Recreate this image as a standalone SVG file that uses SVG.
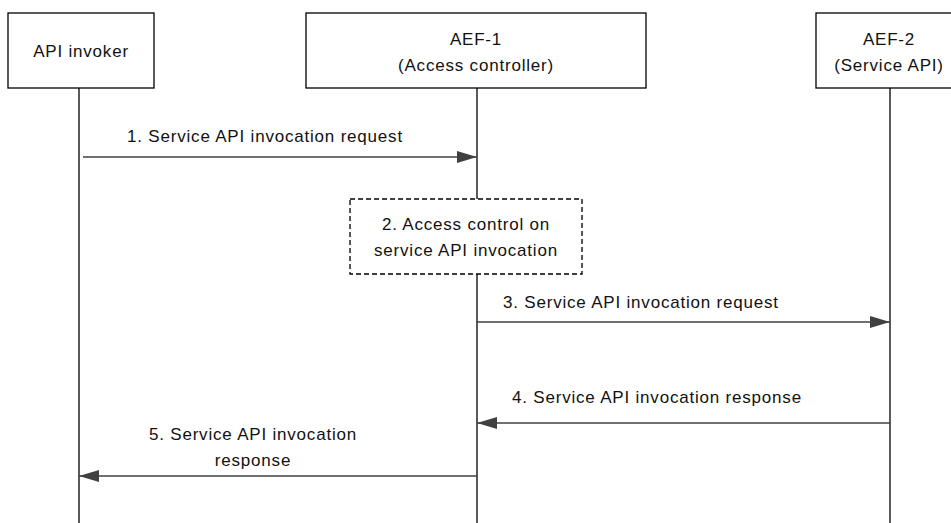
<svg xmlns="http://www.w3.org/2000/svg" width="951" height="523" viewBox="0 0 951 523">
<style>
.box{fill:#fff;stroke:#000;stroke-width:1.3}
.life{stroke:#000;stroke-width:1.3;fill:none}
.msg{stroke:#404040;stroke-width:1.3;fill:none}
text{font-family:"Liberation Sans",Arial,sans-serif;font-size:17px;letter-spacing:0.8px;fill:#111}
.c{text-anchor:middle}
</style>
<defs>
<marker id="ah" markerWidth="20" markerHeight="12" refX="20" refY="6" orient="auto" markerUnits="userSpaceOnUse">
<path d="M0,0 L20,6 L0,12 Z" fill="#404040"/>
</marker>
</defs>
<g id="lifelines">
<line class="life" x1="79" y1="88" x2="79" y2="523"/>
<line class="life" x1="477" y1="88" x2="477" y2="199"/>
<line class="life" x1="477" y1="274" x2="477" y2="523"/>
<line class="life" x1="890" y1="88" x2="890" y2="523"/>
</g>
<g id="apiinvoker">
<rect class="box" x="8" y="13" width="146" height="75"/>
<text class="c" x="81" y="57">API invoker</text>
</g>
<g id="aef1">
<rect class="box" x="306" y="13" width="340" height="75"/>
<text class="c" x="476" y="45">AEF-1</text>
<text class="c" x="476" y="71">(Access controller)</text>
</g>
<g id="aef2">
<rect class="box" x="816" y="13" width="148" height="75"/>
<text class="c" x="889" y="45">AEF-2</text>
<text class="c" x="889" y="71">(Service API)</text>
</g>
<g id="step2">
<rect x="350" y="199" width="232" height="75" fill="#fff" stroke="#000" stroke-width="1.3" stroke-dasharray="5,3"/>
<text class="c" x="466" y="230">2. Access control on</text>
<text class="c" x="466" y="256">service API invocation</text>
</g>
<g id="connectors">
<line class="msg" x1="83" y1="157" x2="477" y2="157" marker-end="url(#ah)"/>
<line class="msg" x1="477" y1="322" x2="890" y2="322" marker-end="url(#ah)"/>
<line class="msg" x1="890" y1="423" x2="477" y2="423" marker-end="url(#ah)"/>
<line class="msg" x1="477" y1="476" x2="79" y2="476" marker-end="url(#ah)"/>
</g>
<g id="labels">
<text class="c" x="265" y="142">1. Service API invocation request</text>
<text x="503" y="308">3. Service API invocation request</text>
<text x="512" y="403">4. Service API invocation response</text>
<text class="c" x="253" y="440">5. Service API invocation</text>
<text class="c" x="253" y="466">response</text>
</g>
</svg>
